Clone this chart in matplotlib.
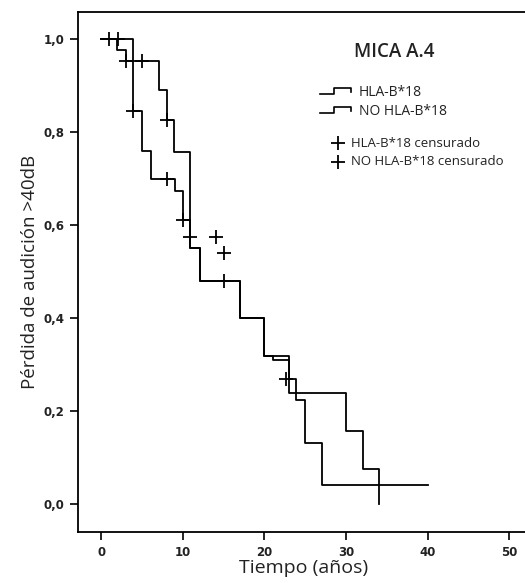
import numpy as np
import matplotlib.pyplot as plt

# Kaplan-Meier curves
t_hla = [0, 3.9, 5.0, 6.1, 9.0, 10.0, 10.9, 12.1, 17.0, 20.0, 21.0, 23.0, 23.9, 25.0, 27.1, 40.0]
s_hla = [1.0, 0.845, 0.76, 0.698, 0.672, 0.611, 0.55, 0.48, 0.40, 0.318, 0.31, 0.268, 0.224, 0.132, 0.042, 0.042]

t_no = [0, 1.95, 3.0, 7.1, 8.05, 8.95, 10.9, 12.1, 17.0, 20.0, 23.0, 30.0, 32.05, 34.1, 34.1]
s_no = [1.0, 0.976, 0.953, 0.89, 0.826, 0.757, 0.55, 0.48, 0.40, 0.318, 0.238, 0.157, 0.075, 0.075, 0.0]

# censored observations
cens_t = [0.9, 2.0, 3.0, 5.0, 3.9, 8.05, 8.05, 10.0, 10.9, 14.1, 15.1, 15.1, 22.7]
cens_s = [1.0, 1.0, 0.953, 0.953, 0.845, 0.826, 0.698, 0.611, 0.575, 0.575, 0.54, 0.48, 0.268]

xticks = [0, 10, 20, 30, 40, 50]
yticks = [0.0, 0.2, 0.4, 0.6, 0.8, 1.0]
ytick_labels = ['0,0', '0,2', '0,4', '0,6', '0,8', '1,0']

fig = plt.figure(figsize=(5.25, 5.83), dpi=100)
ax = fig.add_axes([0.1486, 0.0875, 0.86, 0.892])

lw = 1.3
ax.step(t_hla, s_hla, where='post', color='black', lw=lw)
ax.step(t_no, s_no, where='post', color='black', lw=lw)
ax.plot(cens_t, cens_s, ls='none', marker='+', color='black', ms=10, mew=1.3)

ax.set_xlim(-2.85, 52.5)
ax.set_ylim(-0.06, 1.058)
ax.set_xticks(xticks)
ax.set_xticklabels([str(v) for v in xticks])
ax.set_yticks(yticks)
ax.set_yticklabels(ytick_labels)

ax.spines['right'].set_visible(False)
for s in ['left', 'top', 'bottom']:
    ax.spines[s].set_linewidth(1.3)
ax.tick_params(direction='out', length=6, width=1.2, labelsize=8.5, pad=4)
for lab in ax.get_xticklabels() + ax.get_yticklabels():
    lab.set_fontfamily('DejaVu Sans')
    lab.set_fontweight('bold')
    lab.set_color('#222222')

ax.set_xlabel('Tiempo (años)', fontsize=14, family='Open Sans', labelpad=0, color='#222222')
ax.set_ylabel('Pérdida de audición >40dB', fontsize=13.5, family='Open Sans', labelpad=3, color='#222222')

# title and hand drawn legend
ax.text(0.70, 0.923, 'MICA A.4', transform=ax.transAxes, ha='center', va='center',
        fontsize=13.5, family='Open Sans', fontweight='semibold', color='#222222')

for dy, label in [(0.0, 'HLA-B*18'), (0.0365, 'NO HLA-B*18')]:
    xs = [0.537, 0.568, 0.568, 0.604, 0.604]
    ys = [0.842 - dy, 0.842 - dy, 0.854 - dy, 0.854 - dy, 0.846 - dy]
    ax.plot(xs, ys, transform=ax.transAxes, color='black', lw=1.2)
    ax.text(0.622, 0.846 - dy, label, transform=ax.transAxes, ha='left', va='center',
            fontsize=10, family='Open Sans', color='#222222')

for yy, label in [(0.748, 'HLA-B*18 censurado'), (0.712, 'NO HLA-B*18 censurado')]:
    ax.plot([0.575], [yy], transform=ax.transAxes, marker='+', color='black', ms=10, mew=1.3)
    ax.text(0.604, yy, label, transform=ax.transAxes, ha='left', va='center',
            fontsize=9.5, family='Open Sans', color='#222222')

fig.savefig('out.png', dpi=100)
